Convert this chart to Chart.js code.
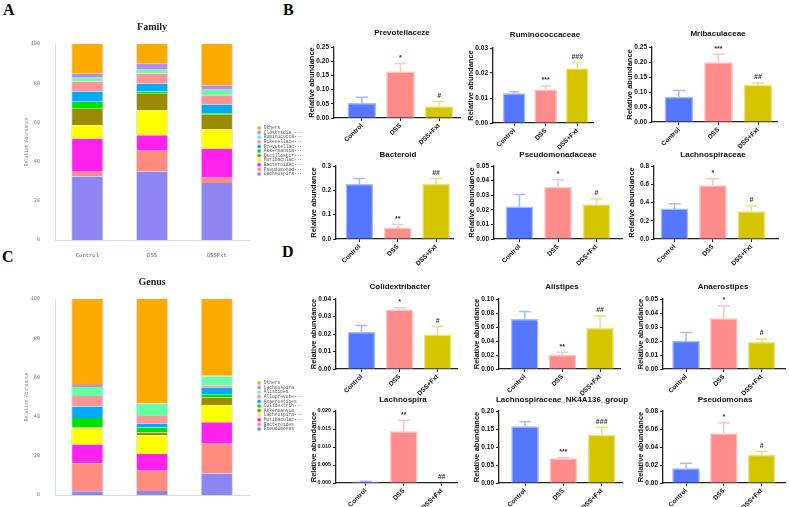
<!DOCTYPE html>
<html>
<head>
<meta charset="utf-8">
<script src="https://cdn.jsdelivr.net/npm/chart.js@4.4.0/dist/chart.umd.min.js"></script>
<style>
body { margin: 0; width: 789px; height: 507px; overflow: hidden; background: #fff; position: relative; }
canvas { position: absolute; }
.letter { position: absolute; font: bold 16px "Liberation Serif", serif; line-height: 16px; color: #000; }
</style>
</head>
<body>
<div class="letter" style="left:3px;top:2px">A</div>
<div class="letter" style="left:283px;top:2px">B</div>
<div class="letter" style="left:2px;top:249px">C</div>
<div class="letter" style="left:282px;top:244px">D</div>
<script>
var SANS = '"Liberation Sans", Arial, sans-serif';
var MONO = '"Liberation Mono", monospace';

var groups = ['Control', 'DSS', 'DSS+Fxt'];
var stackGroups = ['Control', 'DSS', 'DSSFxt'];

// panel A, stacked from the bottom up
var familyNames = ['Lachnospira···', 'Pseudomonad···', 'Bacteroidac···', 'Muribaculac···', 'Oscillospir···', 'Akkermansia···', 'Prevotellac···', 'Rikenellace···', 'Ruminococca···', 'Clostridia_···', 'Others'];
var familyControl = [32.4, 2.4, 16.8, 7.0, 8.4, 3.5, 5.3, 5.1, 1.9, 2.0, 15.2];
var familyDSS = [34.9, 10.6, 8.0, 12.6, 8.5, 1.2, 3.9, 5.3, 1.9, 3.0, 10.1];
var familyFxt = [29.1, 2.6, 14.8, 9.9, 7.5, 0.8, 4.3, 4.8, 2.9, 2.3, 21.0];

// panel C, stacked from the bottom up
var genusNames = ['Pseudomonas', 'Bacteroides', 'Muribaculac···', 'Lachnospira···', 'Akkermansia', 'Colidextrib···', 'Anaerostipes', 'Alloprevote···', 'Alistipes', 'Lachnospira', 'Others'];
var genusControl = [1.9, 14.2, 9.7, 8.3, 0.3, 4.9, 5.8, 5.4, 4.6, 1.0, 43.9];
var genusDSS = [2.0, 10.4, 8.6, 9.5, 1.4, 2.5, 2.0, 3.9, 6.3, 0.2, 53.2];
var genusFxt = [11.0, 15.1, 11.0, 8.8, 3.9, 1.6, 3.5, 1.0, 4.6, 0.3, 39.2];

var stackColors = ['#8c85f2', '#ff8c7e', '#ff22ee', '#ffff00', '#9c8b00', '#00e000', '#00aaff', '#ff9494', '#66ffa6', '#b08ff0', '#ffaa00'];

// panels B and D
var taxa = ['Prevotellaceze', 'Ruminococcaceae', 'Mribaculaceae', 'Bacteroid', 'Pseudomonadaceae', 'Lachnospiraceae',
            'Colidextribacter', 'Alistipes', 'Anaerostipes', 'Lachnospira', 'Lachnospiraceae_NK4A136_group', 'Pseudomonas'];
var controlMean  = [0.052, 0.0118, 0.083, 0.225, 0.022,  0.33,  0.021,  0.071, 0.020,  0.0003, 0.157, 0.016];
var controlUpper = [0.073, 0.0125, 0.105, 0.249, 0.0305, 0.385, 0.0248, 0.082, 0.026,  0.0005, 0.170, 0.022];
var dssMean      = [0.163, 0.0133, 0.198, 0.046, 0.0355, 0.585, 0.0338, 0.020, 0.036,  0.0143, 0.068, 0.055];
var dssUpper     = [0.192, 0.0148, 0.226, 0.060, 0.0405, 0.66,  0.035,  0.024, 0.045,  0.0174, 0.071, 0.067];
var fxtMean      = [0.040, 0.0218, 0.123, 0.226, 0.0235, 0.30,  0.0195, 0.058, 0.019,  0,      0.133, 0.031];
var fxtUpper     = [0.058, 0.0242, 0.130, 0.249, 0.0275, 0.365, 0.0243, 0.076, 0.0215, 0,      0.155, 0.035];
var dssMark = ['*', '***', '***', '**', '*', '*', '*', '**', '*', '**', '***', '*'];
var fxtMark = ['#', '###', '##', '##', '#', '#', '#', '##', '#', '##', '###', '#'];
var yMax    = [0.25, 0.03, 0.25, 0.3, 0.05, 0.8, 0.04, 0.10, 0.05, 0.020, 0.20, 0.08];
var yStep   = [0.05, 0.01, 0.05, 0.1, 0.01, 0.2, 0.01, 0.02, 0.01, 0.005, 0.05, 0.02];
var yDigits = [2, 2, 2, 1, 2, 1, 2, 2, 2, 3, 2, 2];

var barFill = ['#5577ff', '#ff8b8b', '#d4c500'];
var barEdge = ['#a9b9ff', '#ffc4c4', '#ebe27c'];

// axis x, plot top, plot bottom, axis end, title x, title y, gap before first bar, gap after last bar (in bar steps), bar width
var boxes = [
  [334, 47, 118, 460, 402, 33, 0.72, 0.54, 28],
  [493, 48, 123, 593, 545, 35, 0.67, 0.50, 22],
  [652, 47, 122, 777, 718, 34, 0.68, 0.48, 28],
  [336, 166, 239, 453, 398, 155, 0.61, 0.44, 27],
  [494, 166, 239, 622, 558, 155, 0.66, 0.66, 27],
  [654, 166, 239, 778, 713, 155, 0.53, 0.69, 27],
  [336, 299, 369, 457, 400, 287, 0.67, 0.51, 27],
  [499, 299, 369, 620, 562, 287, 0.68, 0.53, 27],
  [663, 299, 369, 785, 723, 287, 0.61, 0.62, 27],
  [336, 411, 483, 457, 403, 400, 0.78, 0.40, 27],
  [499, 411, 483, 622, 562, 400, 0.68, 0.53, 27],
  [663, 411, 483, 785, 725, 400, 0.61, 0.62, 27]
];

// upper error bar and significance mark above each bar
var errorBars = {
  id: 'errorBars',
  afterDatasetsDraw: function (chart, args, opts) {
    var ctx = chart.ctx;
    var y = chart.scales.y;
    var bars = chart.getDatasetMeta(0).data;
    ctx.save();
    bars.forEach(function (bar, i) {
      var base = y.getPixelForValue(opts.mean[i]);
      var top = y.getPixelForValue(opts.upper[i]);
      var half = bar.width * 0.22;
      if (opts.upper[i] > opts.mean[i]) {
        ctx.strokeStyle = barEdge[i];
        ctx.lineWidth = 1.5;
        ctx.beginPath();
        ctx.moveTo(bar.x, base);
        ctx.lineTo(bar.x, top);
        ctx.moveTo(bar.x - half, top);
        ctx.lineTo(bar.x + half, top);
        ctx.stroke();
      }
      if (opts.marks[i]) {
        ctx.fillStyle = '#333';
        ctx.font = 'bold 7px ' + SANS;
        ctx.textAlign = 'center';
        ctx.textBaseline = 'bottom';
        ctx.fillText(opts.marks[i], bar.x, top - 2);
      }
    });
    ctx.restore();
  }
};

function addCanvas(left, top, width, height) {
  var cv = document.createElement('canvas');
  cv.width = width;
  cv.height = height;
  cv.style.left = left + 'px';
  cv.style.top = top + 'px';
  document.body.appendChild(cv);
  return cv;
}

function smallChart(i) {
  var b = boxes[i];
  var YW = 30, XH = 30, TF = 8;
  var left = b[0] - YW;
  var width = Math.round(2 * (b[4] - left));
  var top = Math.round(b[5] - TF * 0.6);
  var height = b[2] + XH - top;
  var padW = left + width - b[3];
  var tickSize = yDigits[i] > 2 ? 5.4 : 6.5;
  var cv = addCanvas(left, top, width, height);
  var axisLine = { color: '#222', width: 1.3 };
  var tickMarks = { drawOnChartArea: false, tickLength: 3, color: '#222', lineWidth: 1 };
  new Chart(cv, {
    type: 'bar',
    data: {
      datasets: [{
        data: [{ x: 0, y: controlMean[i] }, { x: 1, y: dssMean[i] }, { x: 2, y: fxtMean[i] }],
        backgroundColor: barFill,
        borderColor: barEdge,
        borderWidth: 1.5,
        barThickness: b[8]
      }]
    },
    plugins: [errorBars],
    options: {
      responsive: false,
      animation: false,
      devicePixelRatio: 1,
      layout: { padding: 0 },
      plugins: {
        legend: { display: false },
        tooltip: { enabled: false },
        title: {
          display: true,
          text: taxa[i],
          color: '#111',
          font: { family: SANS, size: TF, weight: 'bold', lineHeight: 1.2 },
          padding: { top: 0, bottom: b[1] - top - TF * 1.2 }
        },
        errorBars: {
          mean: [controlMean[i], dssMean[i], fxtMean[i]],
          upper: [controlUpper[i], dssUpper[i], fxtUpper[i]],
          marks: ['', dssMark[i], fxtMark[i]]
        }
      },
      scales: {
        x: {
          type: 'linear',
          offset: false,
          min: -b[6],
          max: 2 + b[7],
          afterBuildTicks: function (s) { s.ticks = [{ value: 0 }, { value: 1 }, { value: 2 }]; },
          afterFit: function (s) { s.height = XH; },
          ticks: {
            autoSkip: false, minRotation: 45, maxRotation: 45, padding: 1, color: '#111',
            font: { family: SANS, size: 6.5, weight: 'bold' },
            callback: function (v) { return groups[v]; }
          },
          grid: { offset: false, drawOnChartArea: false, tickLength: 3, color: '#222', lineWidth: 1 },
          border: axisLine
        },
        y: {
          min: 0,
          max: yMax[i],
          afterFit: function (s) { s.width = YW; },
          ticks: {
            stepSize: yStep[i], padding: 2, color: '#111',
            font: { family: SANS, size: tickSize, weight: 'bold' },
            callback: function (v) { return v.toFixed(yDigits[i]); }
          },
          grid: tickMarks,
          border: axisLine,
          title: {
            display: true, text: 'Relative abundance', color: '#111',
            font: { family: SANS, size: 7.5, weight: 'bold', lineHeight: 1.2 },
            padding: { top: 3.5, bottom: 0 }
          }
        },
        pad: {
          type: 'linear', position: 'right',
          afterFit: function (s) { s.width = padW; },
          grid: { display: false }, border: { display: false }, ticks: { display: false }
        }
      }
    }
  });
}

function stackChart(top, titleText, names, ctrl, dss, fxt) {
  var cv = addCanvas(0, top, 310, 302);
  var datasets = names.map(function (n, k) {
    return {
      label: n,
      data: [ctrl[k], dss[k], fxt[k]],
      backgroundColor: stackColors[k],
      borderColor: '#dcdcff',
      borderWidth: { left: 1, right: 1, top: 0, bottom: 0 },
      borderSkipped: false,
      barPercentage: 1,
      categoryPercentage: 0.5
    };
  });
  var lightAxis = { color: '#d2dcef', width: 1 };
  new Chart(cv, {
    type: 'bar',
    data: { labels: stackGroups, datasets: datasets },
    options: {
      responsive: false,
      animation: false,
      devicePixelRatio: 1,
      layout: { padding: { left: 1, right: 2, top: 0, bottom: 0 } },
      plugins: {
        tooltip: { enabled: false },
        title: {
          display: true, fullSize: false, text: titleText, color: '#222',
          font: { family: '"Liberation Serif", serif', size: 10, weight: 'bold', lineHeight: 1.2 },
          padding: { top: 21, bottom: 11 }
        },
        legend: {
          position: 'right',
          reverse: true,
          labels: {
            usePointStyle: true, pointStyle: 'circle', boxWidth: 4.6, boxHeight: 2.8, padding: 0,
            color: '#555', font: { family: MONO, size: 4.6, lineHeight: 1 }
          }
        }
      },
      scales: {
        x: {
          stacked: true,
          grid: { display: false },
          border: lightAxis,
          afterFit: function (s) { s.height = 62; },
          ticks: { color: '#666', padding: 4, font: { family: MONO, size: 5.5 } }
        },
        y: {
          stacked: true, min: 0, max: 100,
          grid: { display: false },
          border: lightAxis,
          afterFit: function (s) { s.width = 54; },
          ticks: { stepSize: 20, color: '#777', padding: 7, font: { family: MONO, size: 5.2 } },
          title: {
            display: true, text: 'Relative Abundance', color: '#888',
            font: { family: MONO, size: 4.5, lineHeight: 1.2 },
            padding: { top: 23, bottom: 0 }
          }
        },
        pad: {
          type: 'linear', position: 'right',
          afterFit: function (s) { s.width = 7.7; },
          grid: { display: false }, border: { display: false }, ticks: { display: false }
        }
      }
    }
  });
}

stackChart(0, 'Family', familyNames, familyControl, familyDSS, familyFxt);
stackChart(255, 'Genus', genusNames, genusControl, genusDSS, genusFxt);
for (var i = 0; i < taxa.length; i++) {
  smallChart(i);
}
</script>
</body>
</html>
